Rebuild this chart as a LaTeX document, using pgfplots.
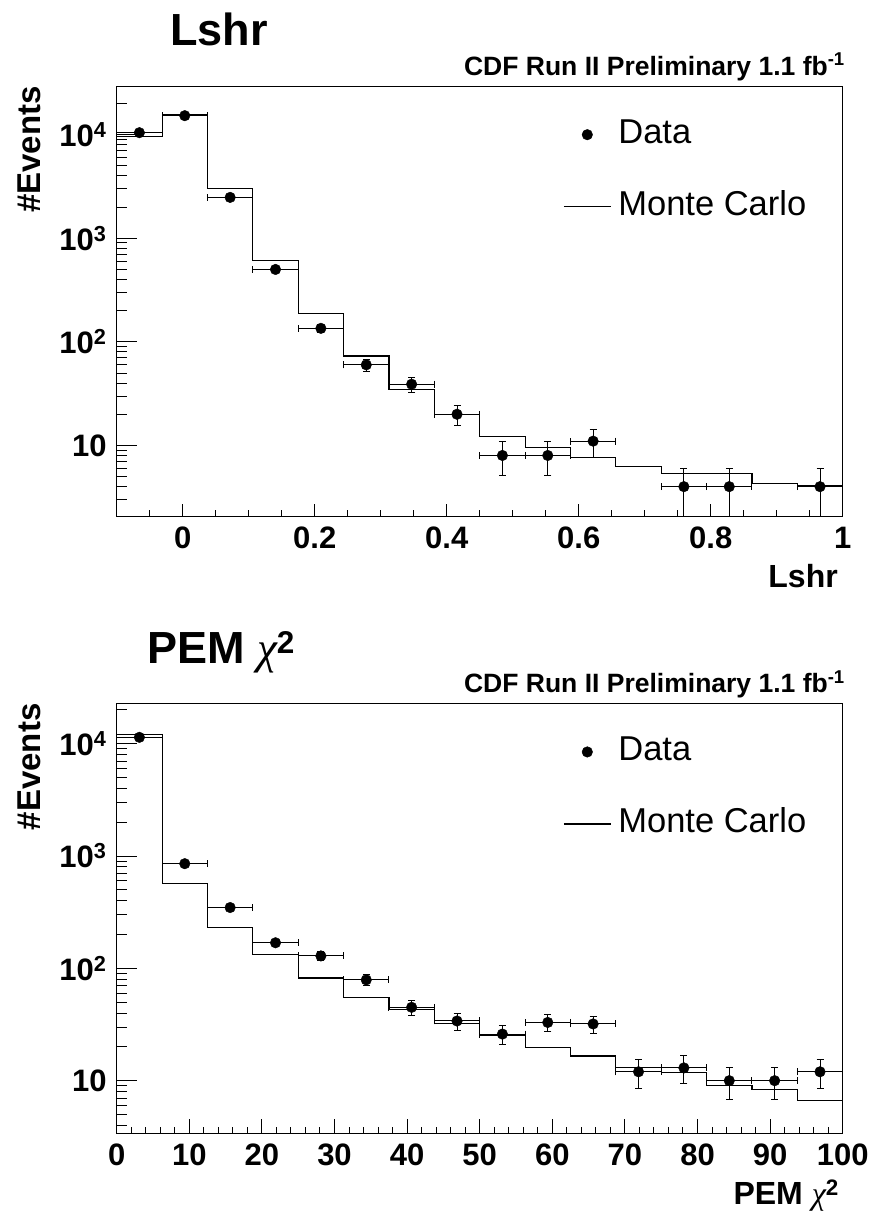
\documentclass[border=0pt]{standalone}
\usepackage{fontspec}
\setmainfont{Liberation Sans}
\newfontfamily\chifont{Liberation Serif}
\usepackage{pgfplots}
\pgfplotsset{compat=1.18}
\newcommand{\chisym}{{\chifont\itshape\mdseries χ}}
\pgfplotstableread{
x y ex ey
-0.065625 10450 0.034375 102.2
0.003125 15250 0.034375 123.5
0.071875 2480 0.034375 49.8
0.140625 500 0.034375 22.4
0.209375 135 0.034375 11.6
0.278125 60 0.034375 7.75
0.346875 39 0.034375 6.24
0.415625 20 0.034375 4.47
0.484375 8 0.034375 2.83
0.553125 8 0.034375 2.83
0.621875 11 0.034375 3.32
0.759375 4 0.034375 2
0.828125 4 0.034375 2
0.965625 4 0.034375 2
}\lshrdata
\pgfplotstableread{
x y ex ey
3.125 11400 3.125 106.8
9.375 855 3.125 29.2
15.625 348 3.125 18.65
21.875 169 3.125 13
28.125 129 3.125 11.36
34.375 79 3.125 8.89
40.625 45 3.125 6.71
46.875 34 3.125 5.83
53.125 26 3.125 5.10
59.375 33 3.125 5.74
65.625 32 3.125 5.66
71.875 12 3.125 3.46
78.125 13 3.125 3.61
84.375 10 3.125 3.16
90.625 10 3.125 3.16
96.875 12 3.125 3.46
}\pemdata
\begin{document}
\begin{tikzpicture}
\useasboundingbox (0,0) rectangle (876pt,-1216pt);
% ---------- top panel ----------
\node[anchor=base, inner sep=0pt, font=\fontsize{45}{45}\selectfont\bfseries] at (219pt,-45pt) {Lshr};
\node[anchor=base east, inner sep=0pt, font=\fontsize{26.5}{26.5}\selectfont\bfseries] at (845pt,-75pt) {CDF Run II Preliminary 1.1 fb\textsuperscript{-1}};
\begin{axis}[at={(116.7pt,-516.5pt)}, anchor=south west,
  scale only axis, width=726pt, height=430.5pt,
  ymode=log, tick pos=left, tick align=inside,
  axis line style={line width=1pt},
  major tick length=16pt, minor tick length=8pt,
  every tick/.append style={black, line width=1pt},
  xtick style={/pgfplots/major tick length=13pt, /pgfplots/minor tick length=6.7pt},
  ytick style={/pgfplots/major tick length=20pt, /pgfplots/minor tick length=10pt},
  xmin=-0.1, xmax=1.0, ymin=2.06, ymax=29500,
  xtick={0,0.2,0.4,0.6,0.8,1}, xticklabels={0,0.2,0.4,0.6,0.8,1},
  minor xtick={-0.05,0.05,0.1,0.15,0.25,0.3,0.35,0.45,0.5,0.55,0.65,0.7,0.75,0.85,0.9,0.95},
  ytick={10,100,1000,10000},
  yticklabels={10,10\textsuperscript{2},10\textsuperscript{3},10\textsuperscript{4}},
  minor ytick={2,3,4,5,6,7,8,9,20,30,40,50,60,70,80,90,200,300,400,500,600,700,800,900,2000,3000,4000,5000,6000,7000,8000,9000,20000},
  ticklabel style={font=\fontsize{31}{31}\selectfont\bfseries},
  xticklabel style={inner sep=0pt, yshift=-10pt},
  yticklabel style={inner sep=0pt, xshift=-10pt},
  ylabel={\#Events},
  ylabel style={at={(axis description cs:-0.1056,1)}, anchor=base east, inner sep=0pt, font=\fontsize{33}{33}\selectfont\bfseries},
  xlabel={Lshr},
  xlabel style={at={(axis description cs:0.9935,-0.1638)}, anchor=base east, inner sep=0pt, font=\fontsize{32}{32}\selectfont\bfseries},
  legend cell align=left,
  legend style={at={(axis description cs:0.6148,0.9257)}, anchor=north west, draw=none, fill=none, inner sep=0pt, row sep=39pt,
    font=\fontsize{34.5}{34.5}\selectfont,
    nodes={inner sep=0pt, text height=25pt, text depth=8pt},
    /tikz/every odd column/.append style={column sep=7pt}},
]
\addlegendimage{legend image code/.code={\draw[only marks, mark=*, mark size=5.3pt, black] plot coordinates {(23.5pt,0pt)}; \path (0pt,0pt) (47pt,0pt);}}
\addlegendentry{Data}
\addplot[const plot, black, line width=1.1pt, legend image code/.code={\draw[black, line width=1.1pt] (0pt,0pt) -- (47pt,0pt);}] coordinates {(-0.1,9600) (-0.03125,15800) (0.0375,3050) (0.10625,605) (0.175,189) (0.24375,73) (0.3125,35) (0.38125,20) (0.45,12.3) (0.51875,9.6) (0.5875,7.7) (0.65625,6.3) (0.725,5.4) (0.79375,5.37) (0.8625,4.3) (0.93125,4.1) (1.0,4.1)};
\addlegendentry{Monte Carlo}
\addplot[forget plot, only marks, mark=*, mark size=5.3pt, black,
    error bars/.cd, x dir=both, x explicit, y dir=both, y explicit,
    error bar style={line width=1pt, black},
    error mark options={rotate=90, line width=1pt, mark size=3.5pt, black}]
  table[x=x, y=y, x error=ex, y error=ey] {\lshrdata};
\end{axis}
% ---------- bottom panel ----------
\node[anchor=base, inner sep=0pt, font=\fontsize{45}{45}\selectfont\bfseries] at (221pt,-663pt) {PEM \chisym\textsuperscript{2}};
\node[anchor=base east, inner sep=0pt, font=\fontsize{26.5}{26.5}\selectfont\bfseries] at (845pt,-692.5pt) {CDF Run II Preliminary 1.1 fb\textsuperscript{-1}};
\begin{axis}[at={(116.7pt,-1133.3pt)}, anchor=south west,
  scale only axis, width=726pt, height=430pt,
  ymode=log, tick pos=left, tick align=inside,
  axis line style={line width=1pt},
  major tick length=16pt, minor tick length=8pt,
  every tick/.append style={black, line width=1pt},
  xtick style={/pgfplots/major tick length=14pt, /pgfplots/minor tick length=6.7pt},
  ytick style={/pgfplots/major tick length=20pt, /pgfplots/minor tick length=10pt},
  xmin=0, xmax=100, ymin=3.4, ymax=22900,
  xtick={0,10,20,30,40,50,60,70,80,90,100}, xticklabels={0,10,20,30,40,50,60,70,80,90,100},
  minor x tick num=4,
  ytick={10,100,1000,10000},
  yticklabels={10,10\textsuperscript{2},10\textsuperscript{3},10\textsuperscript{4}},
  minor ytick={4,5,6,7,8,9,20,30,40,50,60,70,80,90,200,300,400,500,600,700,800,900,2000,3000,4000,5000,6000,7000,8000,9000,20000},
  ticklabel style={font=\fontsize{31}{31}\selectfont\bfseries},
  xticklabel style={inner sep=0pt, yshift=-10pt},
  yticklabel style={inner sep=0pt, xshift=-10pt},
  ylabel={\#Events},
  ylabel style={at={(axis description cs:-0.1056,1)}, anchor=base east, inner sep=0pt, font=\fontsize{33}{33}\selectfont\bfseries},
  xlabel={PEM \chisym\textsuperscript{2}},
  xlabel style={at={(axis description cs:0.9949,-0.1667)}, anchor=base east, inner sep=0pt, font=\fontsize{32}{32}\selectfont\bfseries},
  legend cell align=left,
  legend style={at={(axis description cs:0.6148,0.9257)}, anchor=north west, draw=none, fill=none, inner sep=0pt, row sep=39pt,
    font=\fontsize{34.5}{34.5}\selectfont,
    nodes={inner sep=0pt, text height=25pt, text depth=8pt},
    /tikz/every odd column/.append style={column sep=7pt}},
]
\addlegendimage{legend image code/.code={\draw[only marks, mark=*, mark size=5.3pt, black] plot coordinates {(23.5pt,0pt)}; \path (0pt,0pt) (47pt,0pt);}}
\addlegendentry{Data}
\addplot[const plot, black, line width=1.1pt, legend image code/.code={\draw[black, line width=1.1pt] (0pt,0pt) -- (47pt,0pt);}] coordinates {(0,12100) (6.25,568) (12.5,230) (18.75,132) (25,82) (31.25,55) (37.5,43.3) (43.75,32) (50,25.5) (56.25,19.8) (62.5,16.6) (68.75,13.2) (75,11.8) (81.25,9.1) (87.5,8.3) (93.75,6.7) (100,6.7)};
\addlegendentry{Monte Carlo}
\addplot[forget plot, only marks, mark=*, mark size=5.3pt, black,
    error bars/.cd, x dir=both, x explicit, y dir=both, y explicit,
    error bar style={line width=1pt, black},
    error mark options={rotate=90, line width=1pt, mark size=3.5pt, black}]
  table[x=x, y=y, x error=ex, y error=ey] {\pemdata};
\end{axis}
\end{tikzpicture}
\end{document}
